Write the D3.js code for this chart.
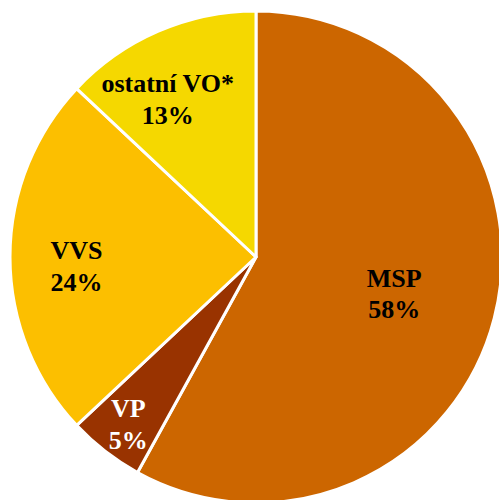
<!DOCTYPE html>
<html>
<head>
<meta charset="utf-8">
<script src="https://cdn.jsdelivr.net/npm/d3@7"></script>
<style>
  html, body { margin: 0; padding: 0; background: #fff; }
  svg { display: block; }
</style>
</head>
<body>
<div id="chart"></div>
<script>
// Data
const categories = ['MSP', 'VP', 'VVS', 'ostatní VO*'];
const shares = [58, 5, 24, 13];
const colors = ['#CC6600', '#993300', '#FCBF00', '#F5D800'];
const labelColors = ['#000', '#fff', '#000', '#000'];

const width = 499;
const height = 500;
const cx = 256, cy = 257, radius = 246;

// label distance from center as a fraction of radius, plus small nudges
const labelRadius = [0.58, 0.86, 0.73, 0.74];
const labelNudgeX = [0, 2, 0, -16];
const labelNudgeY = [-2, -3, 6, 6];

const svg = d3.select('#chart')
  .append('svg')
  .attr('width', width)
  .attr('height', height);

const g = svg.append('g').attr('transform', `translate(${cx},${cy})`);

const data = categories.map((c, i) => ({ name: c, value: shares[i], i }));

const pie = d3.pie()
  .sort(null)
  .value(d => d.value);

const arcs = pie(data);

const arc = d3.arc().innerRadius(0).outerRadius(radius);

g.selectAll('path')
  .data(arcs)
  .enter().append('path')
  .attr('d', arc)
  .attr('fill', d => colors[d.data.i])
  .attr('stroke', '#fff')
  .attr('stroke-width', 3)
  .attr('stroke-linejoin', 'round');

// Labels
const labels = g.selectAll('text')
  .data(arcs)
  .enter().append('text')
  .attr('transform', d => {
    const r = radius * labelRadius[d.data.i];
    const c = d3.arc().innerRadius(r).outerRadius(r).centroid(d);
    return `translate(${c[0] + labelNudgeX[d.data.i]},${c[1] + labelNudgeY[d.data.i]})`;
  })
  .attr('text-anchor', 'middle')
  .style('font-family', '"Liberation Serif", "DejaVu Serif", serif')
  .style('font-weight', 'bold')
  .style('font-size', '26px')
  .attr('fill', d => labelColors[d.data.i]);

labels.append('tspan')
  .attr('x', 0)
  .attr('dy', '-0.15em')
  .text(d => d.data.name);

labels.append('tspan')
  .attr('x', 0)
  .attr('dy', '1.22em')
  .text(d => d.data.value + '%');
</script>
</body>
</html>
